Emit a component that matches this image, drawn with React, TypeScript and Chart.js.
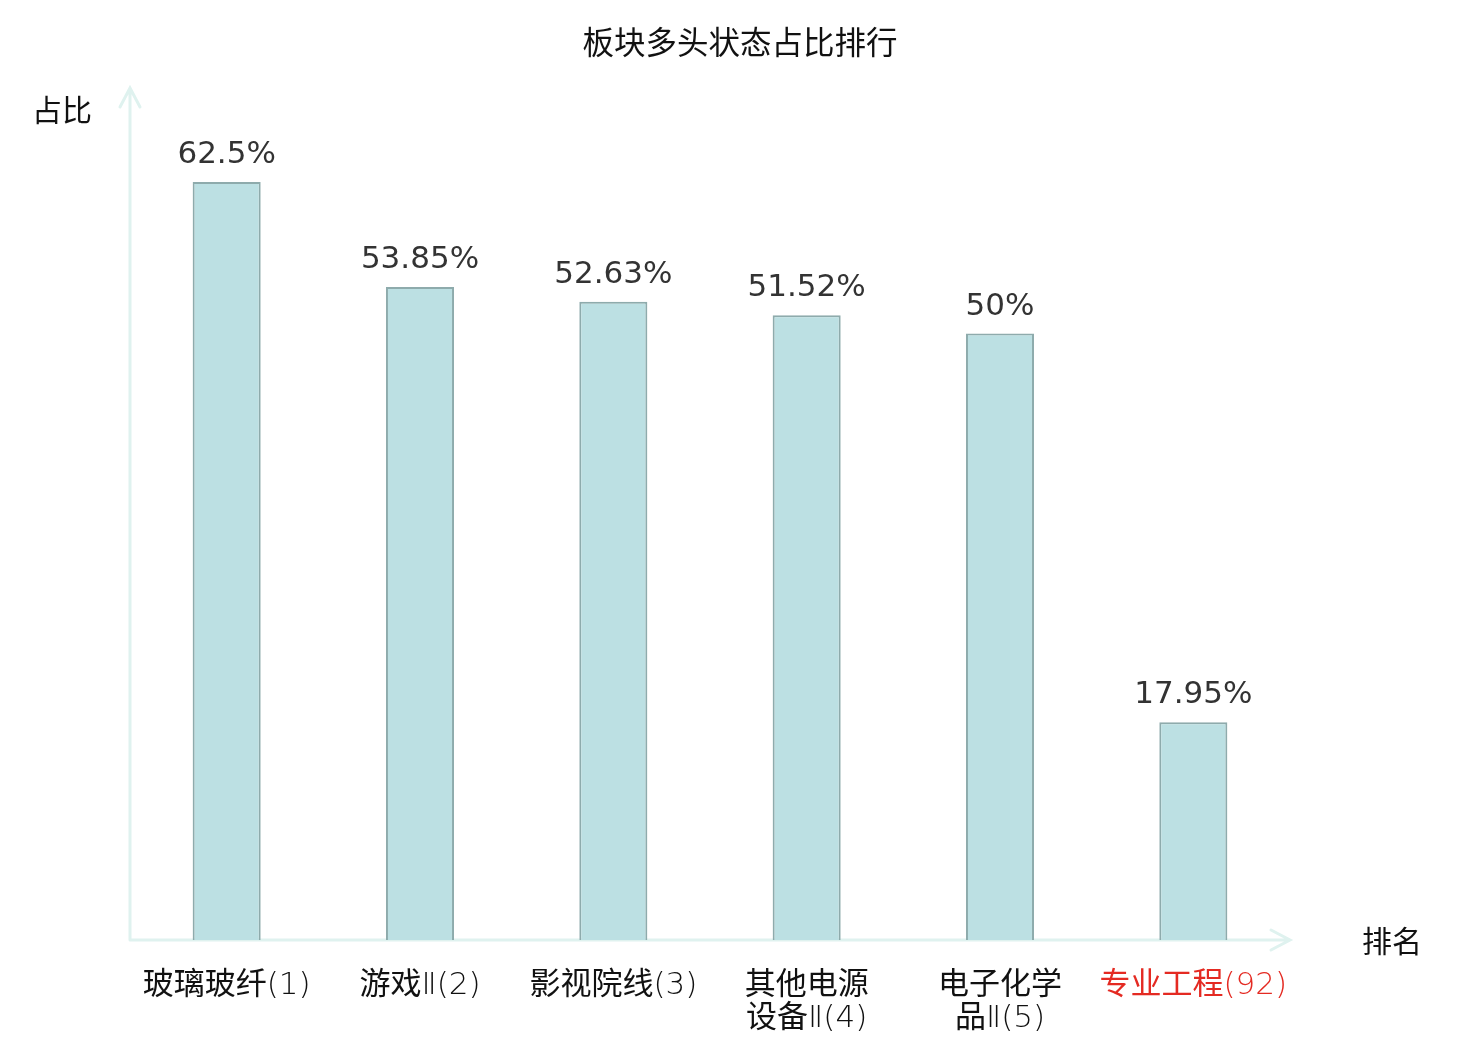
import { useEffect, useRef } from "react";
import { Chart, registerables } from "chart.js";

Chart.register(...registerables);

const categories = [
  ["玻璃玻纤(1)"],
  ["游戏Ⅱ(2)"],
  ["影视院线(3)"],
  ["其他电源", "设备Ⅱ(4)"],
  ["电子化学", "品Ⅱ(5)"],
  ["专业工程(92)"],
];
const ratios = [62.5, 53.85, 52.63, 51.52, 50, 17.95];
const ratioLabels = ["62.5%", "53.85%", "52.63%", "51.52%", "50%", "17.95%"];
const tickColors = ["#111", "#111", "#111", "#111", "#111", "#e42a22"];

const FONT = '"DejaVu Sans", "Noto Sans CJK SC", sans-serif';
const CJK_FONT = '"Noto Sans CJK SC", "DejaVu Sans", sans-serif';
const TICK_FONT =
  '"DejaVu Sans Light", "DejaVu Sans ExtraLight", "Noto Sans CJK SC", sans-serif';
const AXIS_COLOR = "#dff2ef";
const TITLE = "板块多头状态占比排行";

const axisPlugin = {
  id: "arrowAxes",
  beforeDatasetsDraw(chart: any) {
    const { ctx, chartArea } = chart;
    const { left, right, top, bottom } = chartArea;
    ctx.save();
    ctx.strokeStyle = AXIS_COLOR;
    ctx.lineWidth = 3;
    ctx.lineCap = "round";
    ctx.beginPath();
    // x axis
    ctx.moveTo(left, bottom);
    ctx.lineTo(right, bottom);
    ctx.moveTo(right - 19, bottom - 10);
    ctx.lineTo(right, bottom);
    ctx.lineTo(right - 19, bottom + 10);
    // y axis
    ctx.moveTo(left, bottom);
    ctx.lineTo(left, top - 3);
    ctx.moveTo(left - 10, top + 16);
    ctx.lineTo(left, top - 3);
    ctx.lineTo(left + 10, top + 16);
    ctx.stroke();

    ctx.fillStyle = "#111";
    ctx.font = `30px ${CJK_FONT}`;
    ctx.textBaseline = "middle";
    ctx.textAlign = "right";
    ctx.fillText("占比", left - 38, top + 19);
    ctx.textAlign = "left";
    ctx.fillText("排名", right + 72, bottom + 1);

    // title, centred on the whole canvas
    ctx.textAlign = "center";
    ctx.font = `31.5px ${CJK_FONT}`;
    ctx.fillText(TITLE, chart.width / 2, 42);
    ctx.restore();
  },
  afterDatasetsDraw(chart: any) {
    const { ctx } = chart;
    const meta = chart.getDatasetMeta(0);
    ctx.save();
    ctx.fillStyle = "#333";
    ctx.font = `31px ${FONT}`;
    ctx.textAlign = "center";
    ctx.textBaseline = "alphabetic";
    meta.data.forEach((bar: any, i: number) => {
      ctx.fillText(ratioLabels[i], bar.x, bar.y - 19);
    });
    ctx.restore();
  },
};

const RankChart = () => {
  const canvasRef = useRef<HTMLCanvasElement>(null);

  useEffect(() => {
    document.body.style.margin = "0";
    const chart = new Chart(canvasRef.current!, {
      type: "bar",
      data: {
        labels: categories,
        datasets: [
          {
            data: ratios,
            backgroundColor: "#bce0e3",
            borderColor: "#8eabac",
            borderWidth: 2,
            categoryPercentage: 1,
            barPercentage: 0.352,
          },
        ],
      },
      options: {
        animation: false,
        responsive: false,
        layout: { padding: { left: 130, right: 190, top: 91, bottom: 0 } },
        plugins: {
          legend: { display: false },
          tooltip: { enabled: false },
          title: { display: false },
        },
        scales: {
          x: {
            grid: { display: false, drawTicks: false },
            border: { display: false },
            ticks: {
              color: tickColors,
              font: { family: TICK_FONT, size: 31, lineHeight: 1.05 },
              padding: 30,
              maxRotation: 0,
              autoSkip: false,
            },
            afterFit: (scale: any) => {
              scale.height = 100;
            },
          },
          y: {
            display: false,
            min: 0,
            max: 70,
          },
        },
      },
      plugins: [axisPlugin],
    });
    return () => {
      chart.destroy();
    };
  }, []);

  return (
    <div style={{ width: 1480, height: 1040, background: "#fff" }}>
      <canvas ref={canvasRef} width={1480} height={1040}></canvas>
    </div>
  );
};

export default function App() {
  return <RankChart />;
}
